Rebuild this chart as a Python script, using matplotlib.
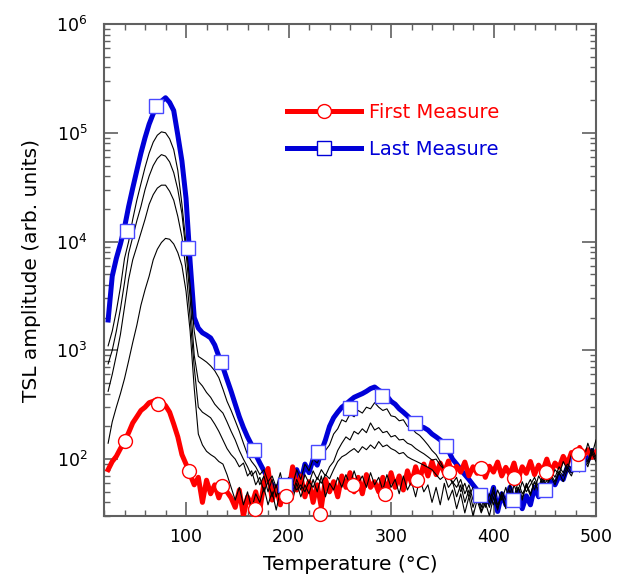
import matplotlib
matplotlib.use('Agg')
import matplotlib.pyplot as plt
from matplotlib.lines import Line2D
from matplotlib.ticker import LogLocator, MultipleLocator, NullFormatter

# temperature grid (°C), one reading every 4 degrees
temperature = list(range(24, 501, 4))

# First Measure (red)
first_measure = [
    80, 95, 106, 125, 146, 175, 215, 245, 280, 300, 330, 340, 355, 340, 310, 270,
    210, 160, 110, 90, 72, 58, 68, 40, 64, 48, 58, 44, 56, 50, 44, 36,
    52, 30, 45, 38, 50, 34, 60, 82, 42, 55, 38, 60, 48, 85, 52, 70,
    45, 62, 40, 58, 36, 65, 50, 62, 45, 70, 55, 75, 50, 68, 48, 72,
    55, 62, 50, 68, 48, 75, 55, 70, 52, 78, 60, 85, 65, 90, 70, 95,
    72, 92, 75, 96, 70, 86, 76, 94, 70, 85, 74, 90, 68, 86, 76, 94,
    70, 84, 72, 92, 66, 85, 74, 95, 72, 88, 78, 100, 76, 92, 84, 106,
    90, 115, 100, 128, 108, 122, 104, 116,
]

# Last Measure (blue)
last_measure = [
    1900, 4800, 7000, 9500, 13500, 21000, 31000, 45000, 65000, 90000, 120000, 150000,
    172000, 195000, 210000, 190000, 160000, 95000, 55000, 25000, 6500, 2000, 1600, 1450,
    1380, 1300, 1120, 880, 700, 540, 420, 320, 245, 195, 160, 135,
    110, 92, 78, 66, 58, 52, 60, 48, 64, 55, 80, 62, 90, 75, 100, 88,
    118, 150, 200, 240, 270, 300, 320, 345, 370, 385, 400, 420, 445, 460, 430, 410,
    380, 340, 320, 290, 270, 250, 230, 210, 200, 195, 185, 170, 160, 150, 140, 120,
    100, 90, 80, 72, 65, 58, 52, 45, 50, 40, 55, 33, 48, 38, 55, 40,
    50, 35, 46, 38, 55, 45, 60, 50, 62, 58, 70, 65, 85, 78, 95, 88,
    105, 98, 120, 110,
]

# intermediate measures (black), from highest to lowest
measure_2 = [
    1100, 1500, 2300, 3800, 7000, 10000, 16000, 24000, 34000, 48000, 65000, 82000,
    95000, 102000, 100000, 88000, 70000, 45000, 22000, 9500, 4000, 1500, 880, 830,
    780, 720, 650, 560, 440, 340, 280, 225, 180, 140, 110, 95, 85, 72, 80, 62,
    70, 55, 75, 50, 68, 58, 80, 65, 90, 78, 100, 92, 110, 120, 135, 170,
    190, 230, 220, 260, 245, 280, 265, 300, 290, 330, 300, 280, 290, 250, 245, 225,
    230, 200, 195, 175, 165, 150, 135, 120, 110, 95, 80, 70, 62, 55, 65, 48,
    58, 42, 52, 36, 48, 40, 55, 35, 50, 42, 58, 45, 62, 48, 55, 65,
    52, 70, 60, 75, 65, 80, 72, 95, 80, 110, 92, 120, 100, 140, 110, 150,
]
measure_3 = [
    750, 1000, 1500, 2400, 4200, 7800, 11000, 15500, 21000, 30000, 40000, 50000,
    58000, 63000, 61000, 54000, 43000, 30000, 18000, 8000, 3000, 900, 520, 470,
    410, 370, 320, 290, 265, 220, 180, 150, 120, 100, 85, 70, 78, 58, 70, 50,
    65, 45, 60, 42, 58, 48, 65, 52, 72, 60, 78, 65, 80, 70, 85, 95,
    120, 140, 160, 150, 180, 170, 190, 175, 215, 185, 195, 175, 180, 160, 165, 150,
    152, 140, 135, 125, 118, 112, 105, 98, 100, 88, 80, 70, 60, 68, 50, 60,
    45, 55, 40, 50, 36, 48, 38, 52, 42, 55, 40, 58, 46, 62, 50, 58,
    68, 55, 72, 62, 78, 68, 85, 75, 90, 82, 100, 88, 110, 95, 125, 105,
]
measure_4 = [
    420, 600, 900, 1400, 2500, 4500, 6800, 9000, 12000, 16000, 22000, 27000,
    31000, 33000, 33000, 29000, 24000, 17000, 11000, 5500, 2000, 700, 300, 270,
    255, 240, 210, 180, 150, 125, 110, 100, 85, 92, 70, 78, 58, 68, 50, 62,
    45, 58, 42, 55, 48, 60, 52, 58, 50, 62, 55, 68, 60, 72, 66, 80,
    95, 105, 110, 118, 125, 115, 130, 122, 135, 125, 145, 130, 135, 125, 120, 112,
    115, 105, 100, 96, 92, 88, 84, 80, 72, 65, 70, 55, 62, 45, 58, 40,
    52, 36, 48, 33, 45, 36, 50, 38, 46, 35, 52, 40, 55, 44, 60, 48,
    62, 52, 68, 58, 72, 62, 78, 70, 85, 75, 95, 82, 105, 90, 118, 100,
]
measure_5 = [
    140, 220, 300, 400, 550, 800, 1180, 1700, 2600, 3600, 4800, 6800,
    8500, 9800, 10700, 10500, 9500, 7900, 6000, 3500, 1500, 450, 170, 135,
    118, 110, 104, 95, 90, 72, 55, 42, 55, 38, 50, 35, 48, 40, 55, 38,
    50, 34, 52, 40, 55, 42, 60, 45, 58, 48, 65, 50, 70, 45, 60, 52,
    68, 55, 72, 58, 78, 60, 70, 55, 75, 58, 68, 52, 72, 55, 65, 48,
    70, 52, 62, 45, 66, 50, 58, 40, 55, 38, 60, 42, 52, 35, 48, 32,
    45, 30, 42, 32, 40, 30, 45, 34, 48, 36, 50, 38, 55, 42, 58, 46,
    62, 50, 66, 55, 70, 58, 75, 62, 80, 70, 90, 76, 100, 85, 112, 95,
]

# symbols drawn on the two labelled curves
red_mark_t = [40, 73, 103, 135, 167, 198, 231, 263, 294, 325, 357, 388, 420, 451, 482]
red_mark_v = [146, 318, 78, 57, 35, 46, 31, 58, 48, 64, 76, 83, 67, 76, 111]
blue_mark_t = [42, 71, 102, 134, 166, 197, 229, 260, 291, 323, 354, 387, 419, 450, 482]
blue_mark_v = [12600, 178000, 8700, 776, 120, 58, 116, 293, 380, 214, 131, 47, 42, 52, 90]

RED = '#ff0000'
BLUE = '#0000d8'
AXIS_GREY = '#606060'

plt.rcParams['font.family'] = ['DejaVu Sans']

fig = plt.figure(figsize=(6.17, 5.76), dpi=100)
ax = fig.add_axes([0.1686, 0.1042, 0.7974, 0.8541])

# thick curves first, thin black curves on top
ax.plot(temperature, last_measure, color=BLUE, lw=3.6, zorder=2)
ax.plot(temperature, first_measure, color=RED, lw=3.6, zorder=3)
for series in [measure_2, measure_3, measure_4, measure_5]:
    ax.plot(temperature, series, color='black', lw=0.8, zorder=4)

ax.plot(blue_mark_t, blue_mark_v, ls='none', marker='s', ms=10, mfc='white',
        mec='#4848ff', mew=1.0, zorder=5, clip_on=False)
ax.plot(red_mark_t, red_mark_v, ls='none', marker='o', ms=10, mfc='white',
        mec=RED, mew=1.0, zorder=5, clip_on=False)

ax.set_yscale('log')
ax.set_xlim(20, 500)
ax.set_ylim(30, 1e6)

# ticks inside on all four sides
ax.xaxis.set_major_locator(MultipleLocator(100))
ax.xaxis.set_minor_locator(MultipleLocator(20))
ax.yaxis.set_major_locator(LogLocator(base=10, numticks=10))
ax.yaxis.set_minor_locator(LogLocator(base=10, subs=range(2, 10), numticks=10))
ax.yaxis.set_minor_formatter(NullFormatter())
ax.tick_params(which='both', direction='in', top=True, right=True,
               color=AXIS_GREY, labelsize=12.5)
ax.tick_params(which='major', length=10, width=1.2)
ax.tick_params(which='minor', length=4.5, width=1.0)
ax.tick_params(axis='x', which='major', pad=9)
ax.tick_params(axis='y', which='major', pad=12)
for side in ax.spines.values():
    side.set_color(AXIS_GREY)
    side.set_linewidth(1.5)

ax.set_xlabel('Temperature (°C)', fontsize=14.5, labelpad=6)
ax.set_ylabel('TSL amplitude (arb. units)', fontsize=14.5, labelpad=11)

# legend
handles = [
    Line2D([], [], color=RED, lw=3.6, marker='o', ms=10, mfc='white', mec=RED, mew=1.0),
    Line2D([], [], color=BLUE, lw=3.6, marker='s', ms=10, mfc='white', mec=BLUE, mew=1.0),
]
leg = ax.legend(handles, ['First Measure', 'Last Measure'], loc='upper left',
                bbox_to_anchor=(0.372, 0.84), frameon=False, numpoints=1,
                fontsize=14, handlelength=3.8, handletextpad=0.4,
                labelspacing=0.95, borderpad=0, borderaxespad=0)
for text, colour in zip(leg.get_texts(), [RED, BLUE]):
    text.set_color(colour)

plt.savefig('out.png', dpi=100)
plt.close()
